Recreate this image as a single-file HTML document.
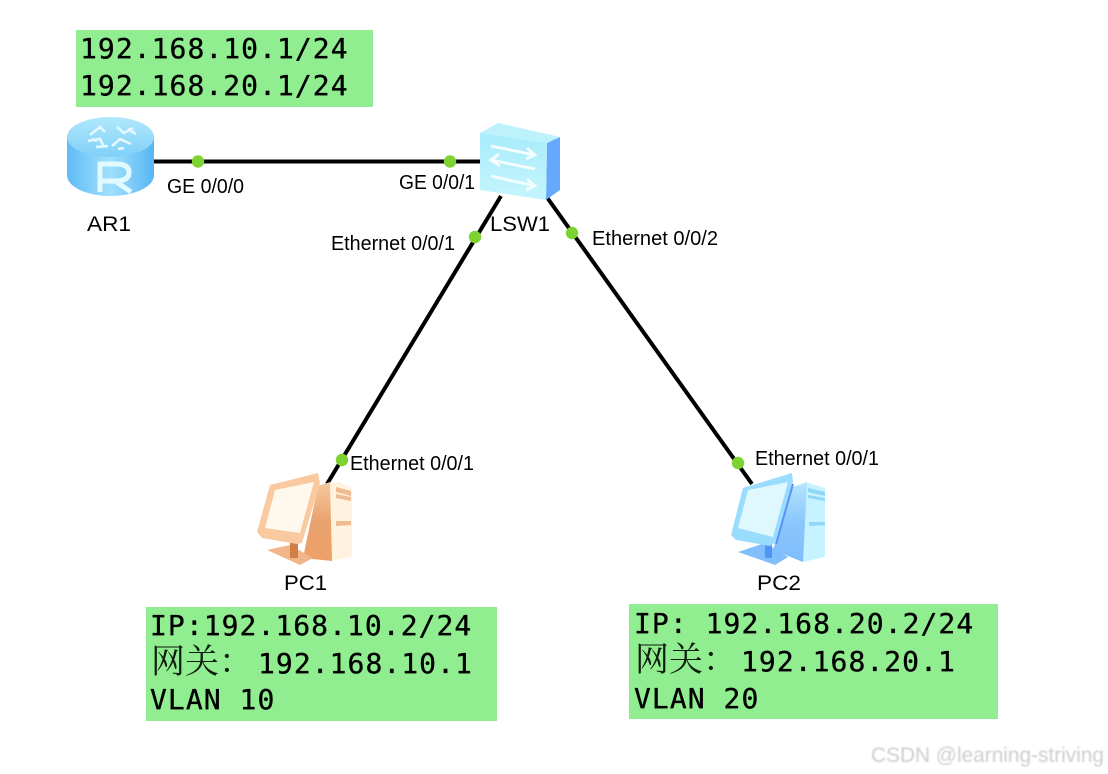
<!DOCTYPE html>
<html>
<head>
<meta charset="utf-8">
<style>
html,body{margin:0;padding:0;background:#fff;}
svg{display:block;}
.m{font-family:"DejaVu Sans Mono","Liberation Mono",monospace;font-size:28px;letter-spacing:1.05px;fill:#000;stroke:#000;stroke-width:.35px;}
.c{font-family:"Noto Serif CJK SC","Noto Sans CJK SC",serif;font-size:34px;fill:#0a1a0a;letter-spacing:0;}
.l{font-family:"Liberation Sans",Arial,sans-serif;font-size:20px;fill:#000;}
.n{font-family:"Liberation Sans",Arial,sans-serif;font-size:21px;fill:#000;}
.w{font-family:"Liberation Sans",Arial,sans-serif;font-size:21px;fill:#cdcdcd;}
</style>
</head>
<body>
<svg width="1108" height="774" viewBox="0 0 1108 774" xmlns="http://www.w3.org/2000/svg">
<defs>
<linearGradient id="rb" x1="0" y1="0" x2="1" y2="0">
<stop offset="0" stop-color="#5fbcf5"/><stop offset=".5" stop-color="#a0e0fd"/><stop offset="1" stop-color="#58b6f3"/>
</linearGradient>
<linearGradient id="rt" x1="0" y1="0" x2="0" y2="1">
<stop offset="0" stop-color="#b0e8fc"/><stop offset="1" stop-color="#80d0f8"/>
</linearGradient>
<linearGradient id="sf" x1="0" y1="0" x2="0" y2="1">
<stop offset="0" stop-color="#a8ecfb"/><stop offset="1" stop-color="#c5f5fd"/>
</linearGradient>
<linearGradient id="os" x1="0" y1="0" x2="0" y2="1">
<stop offset="0" stop-color="#f6c9a0"/><stop offset=".5" stop-color="#e9a26e"/><stop offset="1" stop-color="#ee9f68"/>
</linearGradient>
<linearGradient id="bs" x1="0" y1="0" x2="0" y2="1">
<stop offset="0" stop-color="#b4e6fe"/><stop offset=".5" stop-color="#8cc6fd"/><stop offset="1" stop-color="#7fbcfc"/>
</linearGradient>
<filter id="b" x="-2%" y="-2%" width="104%" height="104%"><feGaussianBlur stdDeviation="0.35"/></filter>
<filter id="b2" x="-5%" y="-5%" width="110%" height="110%"><feGaussianBlur stdDeviation="0.7"/></filter>
</defs>

<g filter="url(#b)">
<!-- green boxes -->
<rect x="76" y="30" width="297" height="77" fill="#90ee90"/>
<rect x="146" y="607" width="351" height="114" fill="#90ee90"/>
<rect x="629" y="604" width="369" height="115" fill="#90ee90"/>

<!-- links -->
<g stroke="#000" stroke-width="4" fill="none">
<line x1="150" y1="161.500" x2="482" y2="161.500"/>
<line x1="501" y1="196" x2="327" y2="484"/>
<line x1="546" y1="196" x2="752" y2="484"/>
</g>

<!-- router AR1 -->
<path d="M67 137 V175 C67 187 87 196 110 196 C134 196 154 187 154 175 V137 Z" fill="url(#rb)"/>
<ellipse cx="110.500" cy="137" rx="43.500" ry="20" fill="url(#rt)"/>
<g stroke="#e4f8ff" stroke-width="2.600" fill="none">
<path d="M90 135 L100 127 L105 132 M97 141 L92 139"/>
<path d="M117 127 L124 133 L133 128 M128 129 L136 134"/>
<path d="M88 141 L100 139 L104 147 M96 147 L108 146"/>
<path d="M112 146 L120 139 L131 144 M118 149 L124 148"/>
</g>
<path d="M100 192 V164 H116 Q129 164 129 172.500 Q129 181 115 181 H100 M115 181 L131 192" fill="none" stroke="#e2f9ff" stroke-width="5"/>

<!-- switch LSW1 -->
<polygon points="480,133 498,123 560,137 547,143" fill="#bdf2fc"/>
<polygon points="547,143 560,137 560,190 546,200" fill="#66a9fc"/>
<polygon points="480,133 547,143 546,200 480,190" fill="url(#sf)"/>
<g stroke="#f4fdff" stroke-width="2.800" fill="none">
<path d="M491 146 L535 155 M527 148 L535 155 L526 159"/>
<path d="M535 169 L491 160 M499 154 L491 160 L500 166"/>
<path d="M491 176 L535 186 M527 179 L535 186 L526 190"/>
</g>

<!-- PC1 -->
<polygon points="330,483 339,482 352,488 352,557 332,561" fill="#fff2df"/>
<polygon points="318,486 330,482 332,561 303,558" fill="url(#os)"/>
<polygon points="336,487 351,491 351,496 336,492" fill="#eebc90"/>
<polygon points="336,494 351,497 351,501 336,498" fill="#eebc90"/>
<polygon points="336,521 351,521 351,525 336,526" fill="#eebc90"/>
<polygon points="267,550 290,545 313,558 300,565" fill="#f2b58a"/>
<polygon points="290,543 298,543 298,558 290,558" fill="#cf8048"/>
<polygon points="257,532 270,485 318,473 320,483 302,543 297,544 262,538" fill="#f9c9a0"/>
<polygon points="265,528 275,490 314,482 300,533" fill="#fff8ec"/>

<!-- PC2 -->
<polygon points="805,482 825,488 825,557 803,562" fill="#c6f3ff"/>
<polygon points="793,487 807,482 803,562 773,550" fill="url(#bs)"/>
<polygon points="808,488 825,492 825,496 808,492" fill="#8fd6f8"/>
<polygon points="808,495 825,498 825,501 808,498" fill="#8fd6f8"/>
<polygon points="809,522 825,522 825,525 809,526" fill="#8fd6f8"/>
<polygon points="738,552 765,543 788,557 775,565" fill="#80bffb"/>
<polygon points="765,543 772,543 772,558 765,558" fill="#4f95f5"/>
<polygon points="731,535 743,488 792,473 793,482 775,543 770,546 736,540" fill="#99dcfd"/>
<polygon points="738,528 748,490 788,482 773,537" fill="#dff8fe"/>
<line x1="793" y1="484" x2="776" y2="544" stroke="#5a8ff5" stroke-width="2"/>

<!-- dots -->
<g fill="#7cd332">
<circle cx="198" cy="161.500" r="6.200"/>
<circle cx="450" cy="161.500" r="6.200"/>
<circle cx="475" cy="237" r="6.200"/>
<circle cx="572" cy="233" r="6.200"/>
<circle cx="342" cy="460" r="6.200"/>
<circle cx="738" cy="463" r="6.200"/>
</g>

<!-- IP text -->
<text class="m" x="80" y="58">192.168.10.1/24</text>
<text class="m" x="80" y="95">192.168.20.1/24</text>

<text class="m" x="150" y="635">IP:192.168.10.2/24</text>
<text x="151" y="673"><tspan class="c">网关</tspan><tspan class="c" x="219">：</tspan><tspan class="m" x="258">192.168.10.1</tspan></text>
<text class="m" x="150" y="709">VLAN 10</text>

<text class="m" x="634" y="633">IP: 192.168.20.2/24</text>
<text x="635" y="671"><tspan class="c">网关</tspan><tspan class="c" x="703">：</tspan><tspan class="m" x="741">192.168.20.1</tspan></text>
<text class="m" x="634" y="708">VLAN 20</text>

<!-- labels -->
<text class="l" x="167" y="193" textLength="77" lengthAdjust="spacingAndGlyphs">GE 0/0/0</text>
<text class="l" x="399" y="189" textLength="76" lengthAdjust="spacingAndGlyphs">GE 0/0/1</text>
<text class="n" x="87" y="231" textLength="44" lengthAdjust="spacingAndGlyphs">AR1</text>
<text class="n" x="490" y="231" textLength="60" lengthAdjust="spacingAndGlyphs">LSW1</text>
<text class="l" x="331" y="250" textLength="124" lengthAdjust="spacingAndGlyphs">Ethernet 0/0/1</text>
<text class="l" x="592" y="245" textLength="126" lengthAdjust="spacingAndGlyphs">Ethernet 0/0/2</text>
<text class="l" x="350" y="470" textLength="124" lengthAdjust="spacingAndGlyphs">Ethernet 0/0/1</text>
<text class="l" x="755" y="465" textLength="124" lengthAdjust="spacingAndGlyphs">Ethernet 0/0/1</text>
<text class="n" x="284" y="590" textLength="43" lengthAdjust="spacingAndGlyphs">PC1</text>
<text class="n" x="757" y="590" textLength="44" lengthAdjust="spacingAndGlyphs">PC2</text>
</g>

<g filter="url(#b2)">
<text class="w" x="871" y="762" textLength="233" lengthAdjust="spacingAndGlyphs">CSDN @learning-striving</text>
</g>
</svg>
</body>
</html>
